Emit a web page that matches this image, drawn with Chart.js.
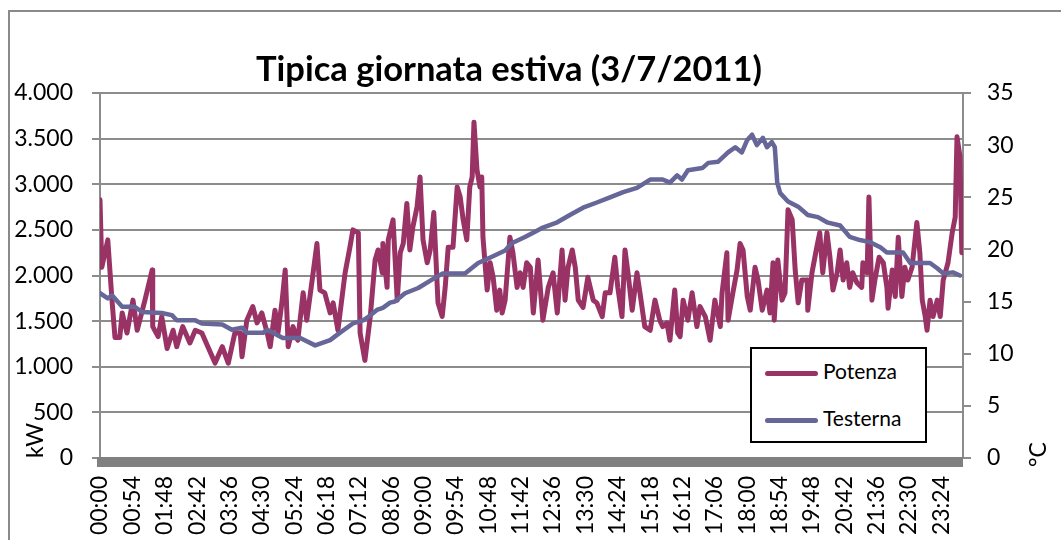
<!DOCTYPE html>
<html>
<head>
  <title>Tipica giornata estiva</title>
  <script src="https://cdn.jsdelivr.net/npm/chart.js"></script>
  <style>
    body { margin: 0; background: #fff; font-family: Lato, sans-serif; overflow: hidden; }
    #frame { position: absolute; left: 8px; top: 10px; width: 1200px; height: 700px; border: 2px solid #8a8a8a; }
    #wrap { position: absolute; left: 0; top: 0; width: 1061px; height: 540px; }
    #legend { position: absolute; left: 750px; top: 347px; width: 173px; height: 92px; border: 2px solid #000; background: #fff; }
    #legend div { position: absolute; left: 13px; height: 24px; font-size: 21px; line-height: 24px; white-space: nowrap; color: #000; }
    #legend span { display: inline-block; width: 53px; height: 5px; border-radius: 3px; vertical-align: middle; margin-right: 5px; }
  </style>
</head>
<body>
  <div id="frame"></div>
  <div id="wrap">
    <canvas id="chart" width="1061" height="540"></canvas>
    <div id="legend"></div>
  </div>

  <script>
    // --- Data (minutes after midnight) ---
    const xTickLabels = ['00:00','00:54','01:48','02:42','03:36','04:30','05:24','06:18','07:12',
      '08:06','09:00','09:54','10:48','11:42','12:36','13:30','14:24','15:18','16:12','17:06',
      '18:00','18:54','19:48','20:42','21:36','22:30','23:24'];

    const potenzaMin = [0,3,13,20,25,33,37,45,55,62,75,87,88,97,103,112,122,128,138,150,159,170,180,192,204,214,225,
      234,237,245,255,262,270,279,284,292,297,304,309,314,322,330,339,345,354,362,367,375,384,389,397,409,417,422,431,434,442,451,459,464,471,472,479,481,
      489,496,501,506,512,517,522,529,534,539,546,551,557,564,571,576,581,589,596,601,606,612,617,621,624,629,634,637,639,646,651,656,662,667,671,676,684,689,696,701,706,712,
      718,723,731,739,748,756,763,771,776,781,788,793,798,806,814,823,829,838,843,851,859,864,871,876,881,888,896,901,909,918,926,934,939,946,951,959,964,
      968,973,981,988,996,1001,1010,1018,1026,1035,1038,1046,1048,1056,1063,1068,1073,1080,1085,1093,1098,1105,1113,1118,1123,1125,1131,1138,1143,1148,1155,1160,1165,1171,1180,1181,1188,1196,1201,1206,
      1213,1218,1223,1230,1235,1240,1246,1251,1256,1263,1271,1273,1280,1283,1288,1293,1300,1307,1313,1315,1322,1327,1332,1338,1343,1348,1355,1363,1368,1372,1377,1380,1385,1390,1397,1402,1407,1415,1422,1427,1430,1435,1438];

    const potenzaKw = [2830,2090,2390,1730,1320,1320,1590,1370,1730,1400,1730,2060,1440,1330,1550,1200,1400,1220,1440,1260,1400,1370,1220,1040,1220,1040,1370,
      1370,1110,1510,1660,1480,1590,1370,1220,1620,1370,1730,2060,1220,1440,1290,1810,1510,1950,2350,1840,1810,1590,1700,1400,2030,2310,2500,2470,1370,1070,1550,2170,2280,2030,2350,1870,2390,
      2610,1730,2250,2350,2790,2280,2530,2750,3080,2390,2140,2280,2690,1700,1550,1870,2310,2310,2970,2860,2610,2390,2970,3080,3680,3160,2970,3080,2420,1840,2140,1980,1620,1840,1590,1730,2420,2250,1870,2030,1870,2140,
      2090,1590,2170,1510,1870,2030,1590,2280,1730,2090,2280,2090,1730,1650,1980,1730,1700,1550,1810,1810,2200,1870,1550,2280,2030,1620,2030,1810,1440,1400,1730,1510,1440,1480,1290,1840,1370,
      1330,1730,1510,1810,1440,1660,1550,1290,1730,1440,1810,2250,1510,1810,2060,2350,2280,1770,1620,2090,1950,1620,1840,1590,2140,1510,2170,1730,1810,2720,2610,2060,1700,1950,1950,1620,2030,2310,2470,2030,
      2470,2200,1840,2030,2280,1950,2140,1870,2030,1920,1870,2140,2030,2860,1730,1950,2200,2140,1870,1640,2060,1770,2420,1770,2090,1950,2090,2580,2250,1730,1550,1400,1730,1550,1730,1550,1950,2140,2470,2640,3520,3300,2250];

    const testernaMin = [0,13,20,37,58,70,103,120,128,159,170,204,220,237,245,272,279,305,334,359,384,400,422,439,447,462,472,484,
      492,509,531,554,572,587,609,631,654,676,687,709,726,739,763,784,806,829,851,873,896,918,939,951,963,971,981,1005,1015,1031,
      1048,1060,1071,1080,1088,1096,1106,1113,1121,1126,1130,1135,1148,1165,1181,1198,1213,1235,1251,1268,1285,1302,1313,1340,1352,1385,1397,1407,1423,1435];

    const testernaC = [15.8,15.3,15.6,14.5,14.5,14.0,13.9,13.7,13.2,13.2,12.9,12.8,12.3,12.5,12.0,12.0,12.3,11.5,11.5,10.8,11.3,12.0,12.9,13.2,13.5,14.2,14.4,14.9,
      15.0,15.8,16.3,17.1,17.7,17.7,17.7,18.7,19.3,19.9,20.6,21.2,21.7,22.1,22.6,23.3,24.0,24.5,25.0,25.5,25.9,26.7,26.7,26.4,27.1,26.7,27.6,27.8,28.3,28.4,
      29.3,29.8,29.3,30.5,31.0,30.0,30.7,29.8,30.3,29.8,26.4,25.4,24.6,24.1,23.3,23.1,22.6,22.3,21.2,20.9,20.7,20.2,19.7,19.7,18.7,18.7,18.2,17.7,17.8,17.5];

    const toMinutes = t => { const [h, m] = t.split(':'); return h * 60 + +m; };
    const itNumber = v => String(v).replace(/\B(?=(\d{3})+(?!\d))/g, '.');
    const gridGray = '#8c8c8c';

    // thick grey x axis bar and the rotated °C title
    const extras = {
      id: 'extras',
      beforeDatasetsDraw(chart) {
        const { ctx, chartArea, scales } = chart;
        const y0 = scales.y.getPixelForValue(0);
        ctx.save();
        ctx.fillStyle = '#808080';
        ctx.fillRect(chartArea.left - 3, y0 - 1, chartArea.right - chartArea.left + 3, 10);
        ctx.restore();
      },
      afterDraw(chart) {
        const { ctx } = chart;
        ctx.save();
        ctx.translate(1046, 467);
        ctx.rotate(-Math.PI / 2);
        ctx.font = '23px Lato';
        ctx.fillStyle = '#000';
        ctx.fillText('°C', 0, 0);
        ctx.restore();
      }
    };

    const ctx = document.getElementById('chart').getContext('2d');
    const chart = new Chart(ctx, {
      type: 'line',
      data: {
        datasets: [
          {
            label: 'Potenza',
            data: potenzaMin.map((m, i) => ({ x: m, y: potenzaKw[i] })),
            yAxisID: 'y',
            borderColor: '#993366',
            borderWidth: 5,
            order: 1
          },
          {
            label: 'Testerna',
            data: testernaMin.map((m, i) => ({ x: m, y: testernaC[i] })),
            yAxisID: 'y2',
            borderColor: '#666699',
            borderWidth: 4.5,
            order: 0
          }
        ]
      },
      options: {
        responsive: false,
        animation: false,
        devicePixelRatio: 1,
        layout: { padding: { left: 0, right: 43, top: 0, bottom: 0 } },
        elements: {
          point: { radius: 0 },
          line: { tension: 0, borderJoinStyle: 'round', borderCapStyle: 'round' }
        },
        plugins: {
          legend: { display: false },
          tooltip: { enabled: false },
          title: {
            display: true,
            text: 'Tipica giornata estiva (3/7/2011)',
            color: '#000',
            font: { family: 'Lato', size: 34.5, weight: 'bold', lineHeight: 1.2 },
            padding: { top: 49.5, bottom: 2.1 }
          }
        },
        scales: {
          x: {
            type: 'linear',
            min: 0,
            max: 1440,
            grid: { display: false, drawTicks: false },
            border: { display: false },
            afterBuildTicks: scale => { scale.ticks = xTickLabels.map(t => ({ value: toMinutes(t) })); },
            afterFit: scale => { scale.height = 82; },
            ticks: {
              autoSkip: false,
              minRotation: 90,
              maxRotation: 90,
              padding: 18,
              color: '#000',
              font: { family: 'Lato', size: 23 },
              callback: (v, i) => xTickLabels[i]
            }
          },
          y: {
            position: 'left',
            min: 0,
            max: 4000,
            afterFit: scale => { scale.width = 100; },
            grid: { color: gridGray, lineWidth: 2, tickLength: 8 },
            border: { color: gridGray, width: 2 },
            title: {
              display: true,
              text: 'kW',
              align: 'start',
              color: '#000',
              font: { family: 'Lato', size: 23 },
              padding: { top: 22 }
            },
            ticks: {
              stepSize: 500,
              padding: 19,
              color: '#000',
              font: { family: 'Lato', size: 23 },
              callback: v => itNumber(v)
            }
          },
          y2: {
            position: 'right',
            min: 0,
            max: 35,
            afterFit: scale => { scale.width = 55; },
            grid: { drawOnChartArea: false, color: gridGray, lineWidth: 2, tickLength: 8 },
            border: { color: gridGray, width: 2 },
            ticks: {
              stepSize: 5,
              padding: 16,
              color: '#000',
              font: { family: 'Lato', size: 23 }
            }
          }
        }
      },
      plugins: [extras]
    });

    // --- HTML legend built from the datasets ---
    const legend = document.getElementById('legend');
    chart.data.datasets.forEach((ds, i) => {
      const item = document.createElement('div');
      item.style.top = (10 + i * 47) + 'px';
      item.innerHTML = `<span style="background:${ds.borderColor}"></span>${ds.label}`;
      legend.appendChild(item);
    });
  </script>
</body>
</html>
